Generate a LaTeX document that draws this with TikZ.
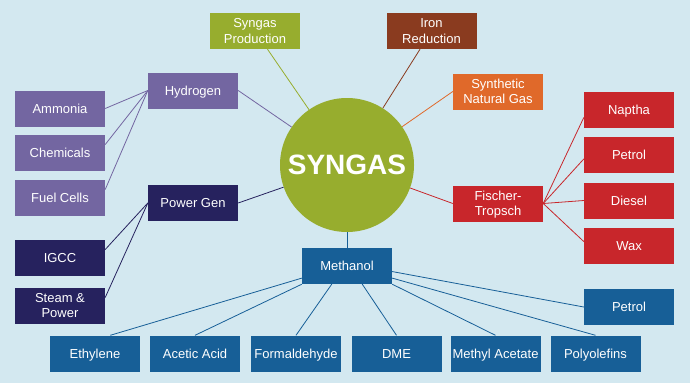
\documentclass[tikz,border=0pt]{standalone}
\usepackage{fontspec}
\setmainfont{Liberation Sans}
\definecolor{Sky}{HTML}{D3E8F0}
\definecolor{Olive}{HTML}{97AD2E}
\definecolor{Rust}{HTML}{8A3B1F}
\definecolor{Amber}{HTML}{E0692A}
\definecolor{Lilac}{HTML}{7366A1}
\definecolor{Ink}{HTML}{26225E}
\definecolor{Brick}{HTML}{C8262B}
\definecolor{Ocean}{HTML}{175F97}
\newcommand{\boxstrut}{\rule[-2.7pt]{0pt}{14.7pt}}
\newcommand{\twoline}[2]{\boxstrut #1\\#2\boxstrut}
\tikzset{
  box/.style={fill=#1,text=white,minimum width=90pt,minimum height=36pt,inner sep=1pt,
    align=center,font=\fontsize{13}{15.5}\selectfont,
    execute at begin node=\boxstrut,execute at end node=\boxstrut},
  link/.style={draw=#1,line width=0.8pt}
}

\begin{document}
\begin{tikzpicture}[x=1pt,y=-1pt]
\fill[Sky] (0,0) rectangle (690,383);
\node[circle,fill=Olive,minimum size=134pt,inner sep=0pt,text=white,font=\fontsize{28}{30}\selectfont\bfseries] (syngas) at (347,165) {SYNGAS};
\node[box=Olive] (synprod) at (255,31) {\twoline{Syngas}{Production}};
\node[box=Rust] (iron) at (431.5,31) {\twoline{Iron}{Reduction}};
\node[box=Amber] (sng) at (498,91.5) {\twoline{Synthetic}{Natural Gas}};
\node[box=Lilac] (hyd) at (193,90.5) {Hydrogen};
\node[box=Ink] (pgen) at (193,203) {Power Gen};
\node[box=Brick] (ft) at (498,203.5) {\twoline{Fischer-}{Tropsch}};
\node[box=Ocean] (meth) at (347,266) {Methanol};
\foreach \n/\y/\t in {amm/108.5/Ammonia,chem/152.5/Chemicals,fuel/197.5/Fuel Cells}{\node[box=Lilac] (\n) at (60,\y) {\t};}
\foreach \n/\y/\t in {igcc/257.5/IGCC,steam/305.5/{\twoline{Steam \&}{Power}}}{\node[box=Ink] (\n) at (60,\y) {\t};}
\foreach \n/\y/\t in {napt/109.5/Naptha,petr/155/Petrol,dies/200.5/Diesel,wax/245.5/Wax}{\node[box=Brick] (\n) at (629,\y) {\t};}
\node[box=Ocean] (petb) at (629,307) {Petrol};
\foreach \n/\x/\t in {eth/95/Ethylene,acet/195/Acetic Acid,form/296/Formaldehyde,dme/396.5/DME,macet/495.5/Methyl Acetate,poly/595.5/Polyolefins}{\node[box=Ocean] (\n) at (\x,353.5) {\t};}
\draw[link=Olive] (synprod) -- (syngas);
\draw[link=Rust] (iron) -- (syngas);
\draw[link=Amber] (sng.west) -- (syngas);
\draw[link=Lilac] (hyd.east) -- (syngas);
\draw[link=Ink] (pgen.east) -- (syngas);
\draw[link=Brick] (ft.west) -- (syngas);
\draw[link=Ocean] (meth.north) -- (syngas);
\draw[link=Lilac] (hyd.west) -- (amm.east);
\draw[link=Lilac] (hyd.west) -- (chem.10);
\draw[link=Lilac] (hyd.west) -- (fuel.10);
\draw[link=Ink] (pgen.west) -- (igcc.10);
\draw[link=Ink] (pgen.west) -- (steam.10);
\draw[link=Brick] (ft.east) -- (napt.190);
\draw[link=Brick] (ft.east) -- (petr.185);
\draw[link=Brick] (ft.east) -- (dies.west);
\draw[link=Brick] (ft.east) -- (wax.175);
\draw[link=Ocean] (meth.195) -- (eth.50);
\draw[link=Ocean] (meth.south west) -- (acet.north);
\draw[link=Ocean] (meth.230) -- (form.north);
\draw[link=Ocean] (meth.310) -- (dme.north);
\draw[link=Ocean] (meth.south east) -- (macet.north);
\draw[link=Ocean] (meth.345) -- (poly.north);
\draw[link=Ocean] (meth.353) -- (petb.west);
\end{tikzpicture}
\end{document}
